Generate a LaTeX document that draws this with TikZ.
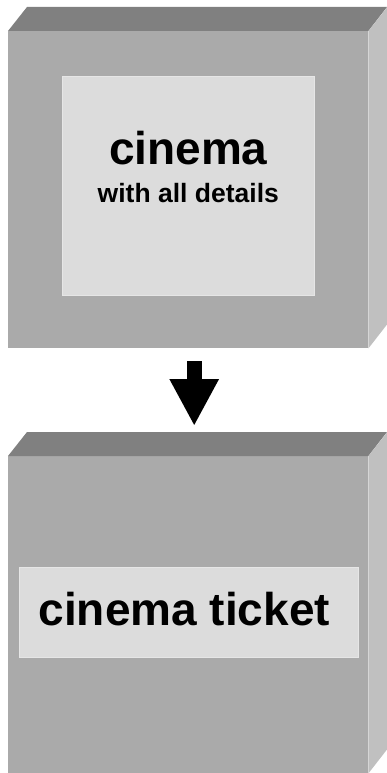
\documentclass[tikz,border=0pt]{standalone}
\usepackage{fontspec}
\setmainfont{Liberation Sans}
\usetikzlibrary{arrows.meta,positioning,calc}
\definecolor{frontgray}{HTML}{AAAAAA}
\definecolor{topgray}{HTML}{808080}
\definecolor{sidegray}{HTML}{C0C0C0}
\definecolor{panelgray}{HTML}{DCDCDC}
\definecolor{paneledge}{HTML}{E6E6E6}

\begin{document}
\begin{tikzpicture}[x=1pt,y=-1pt,
  front/.style={fill=frontgray,minimum width=360pt,minimum height=317pt,inner sep=0pt,anchor=north west},
  panel/.style={fill=panelgray,draw=paneledge,line width=0.6pt,inner sep=0pt,anchor=north west},
  big/.style={font=\fontsize{46}{50}\selectfont\bfseries,anchor=base},
  small/.style={font=\fontsize{26.5}{30}\selectfont\bfseries,anchor=base}]
\useasboundingbox (0,0) rectangle (387,773);
% the two boxes
\node[front] (box1) at (8,31) {};
\node[front] (box2) at (8,456) {};
\foreach \b in {box1,box2}{
\fill[topgray] (\b.north west) -- ++(19,-24) -- ++(360,0) -- (\b.north east) -- cycle;
\fill[sidegray] (\b.north east) -- ++(19,-24) -- ++(0,317) -- (\b.south east) -- cycle;}
% panels and texts
\node[panel,minimum width=252pt,minimum height=219pt] (det) at (62,76) {};
\node[big] (cin) at ($(det.north)+(0,88)$) {cinema};
\node[small] (all) at ($(det.north)+(0,126)$) {with all details};
\node[panel,minimum width=339pt,minimum height=90pt] (tkt) at (19,567) {};
\node[big,anchor=base west] (tick) at ($(tkt.west)+(16,13)$) {cinema ticket};
% arrow
\draw[line width=15pt,-{Triangle[width=46pt,length=47pt]}] ($(box1.south)+(6,13)$) -- ($(box2.north)+(6,-30)$);
\end{tikzpicture}
\end{document}
